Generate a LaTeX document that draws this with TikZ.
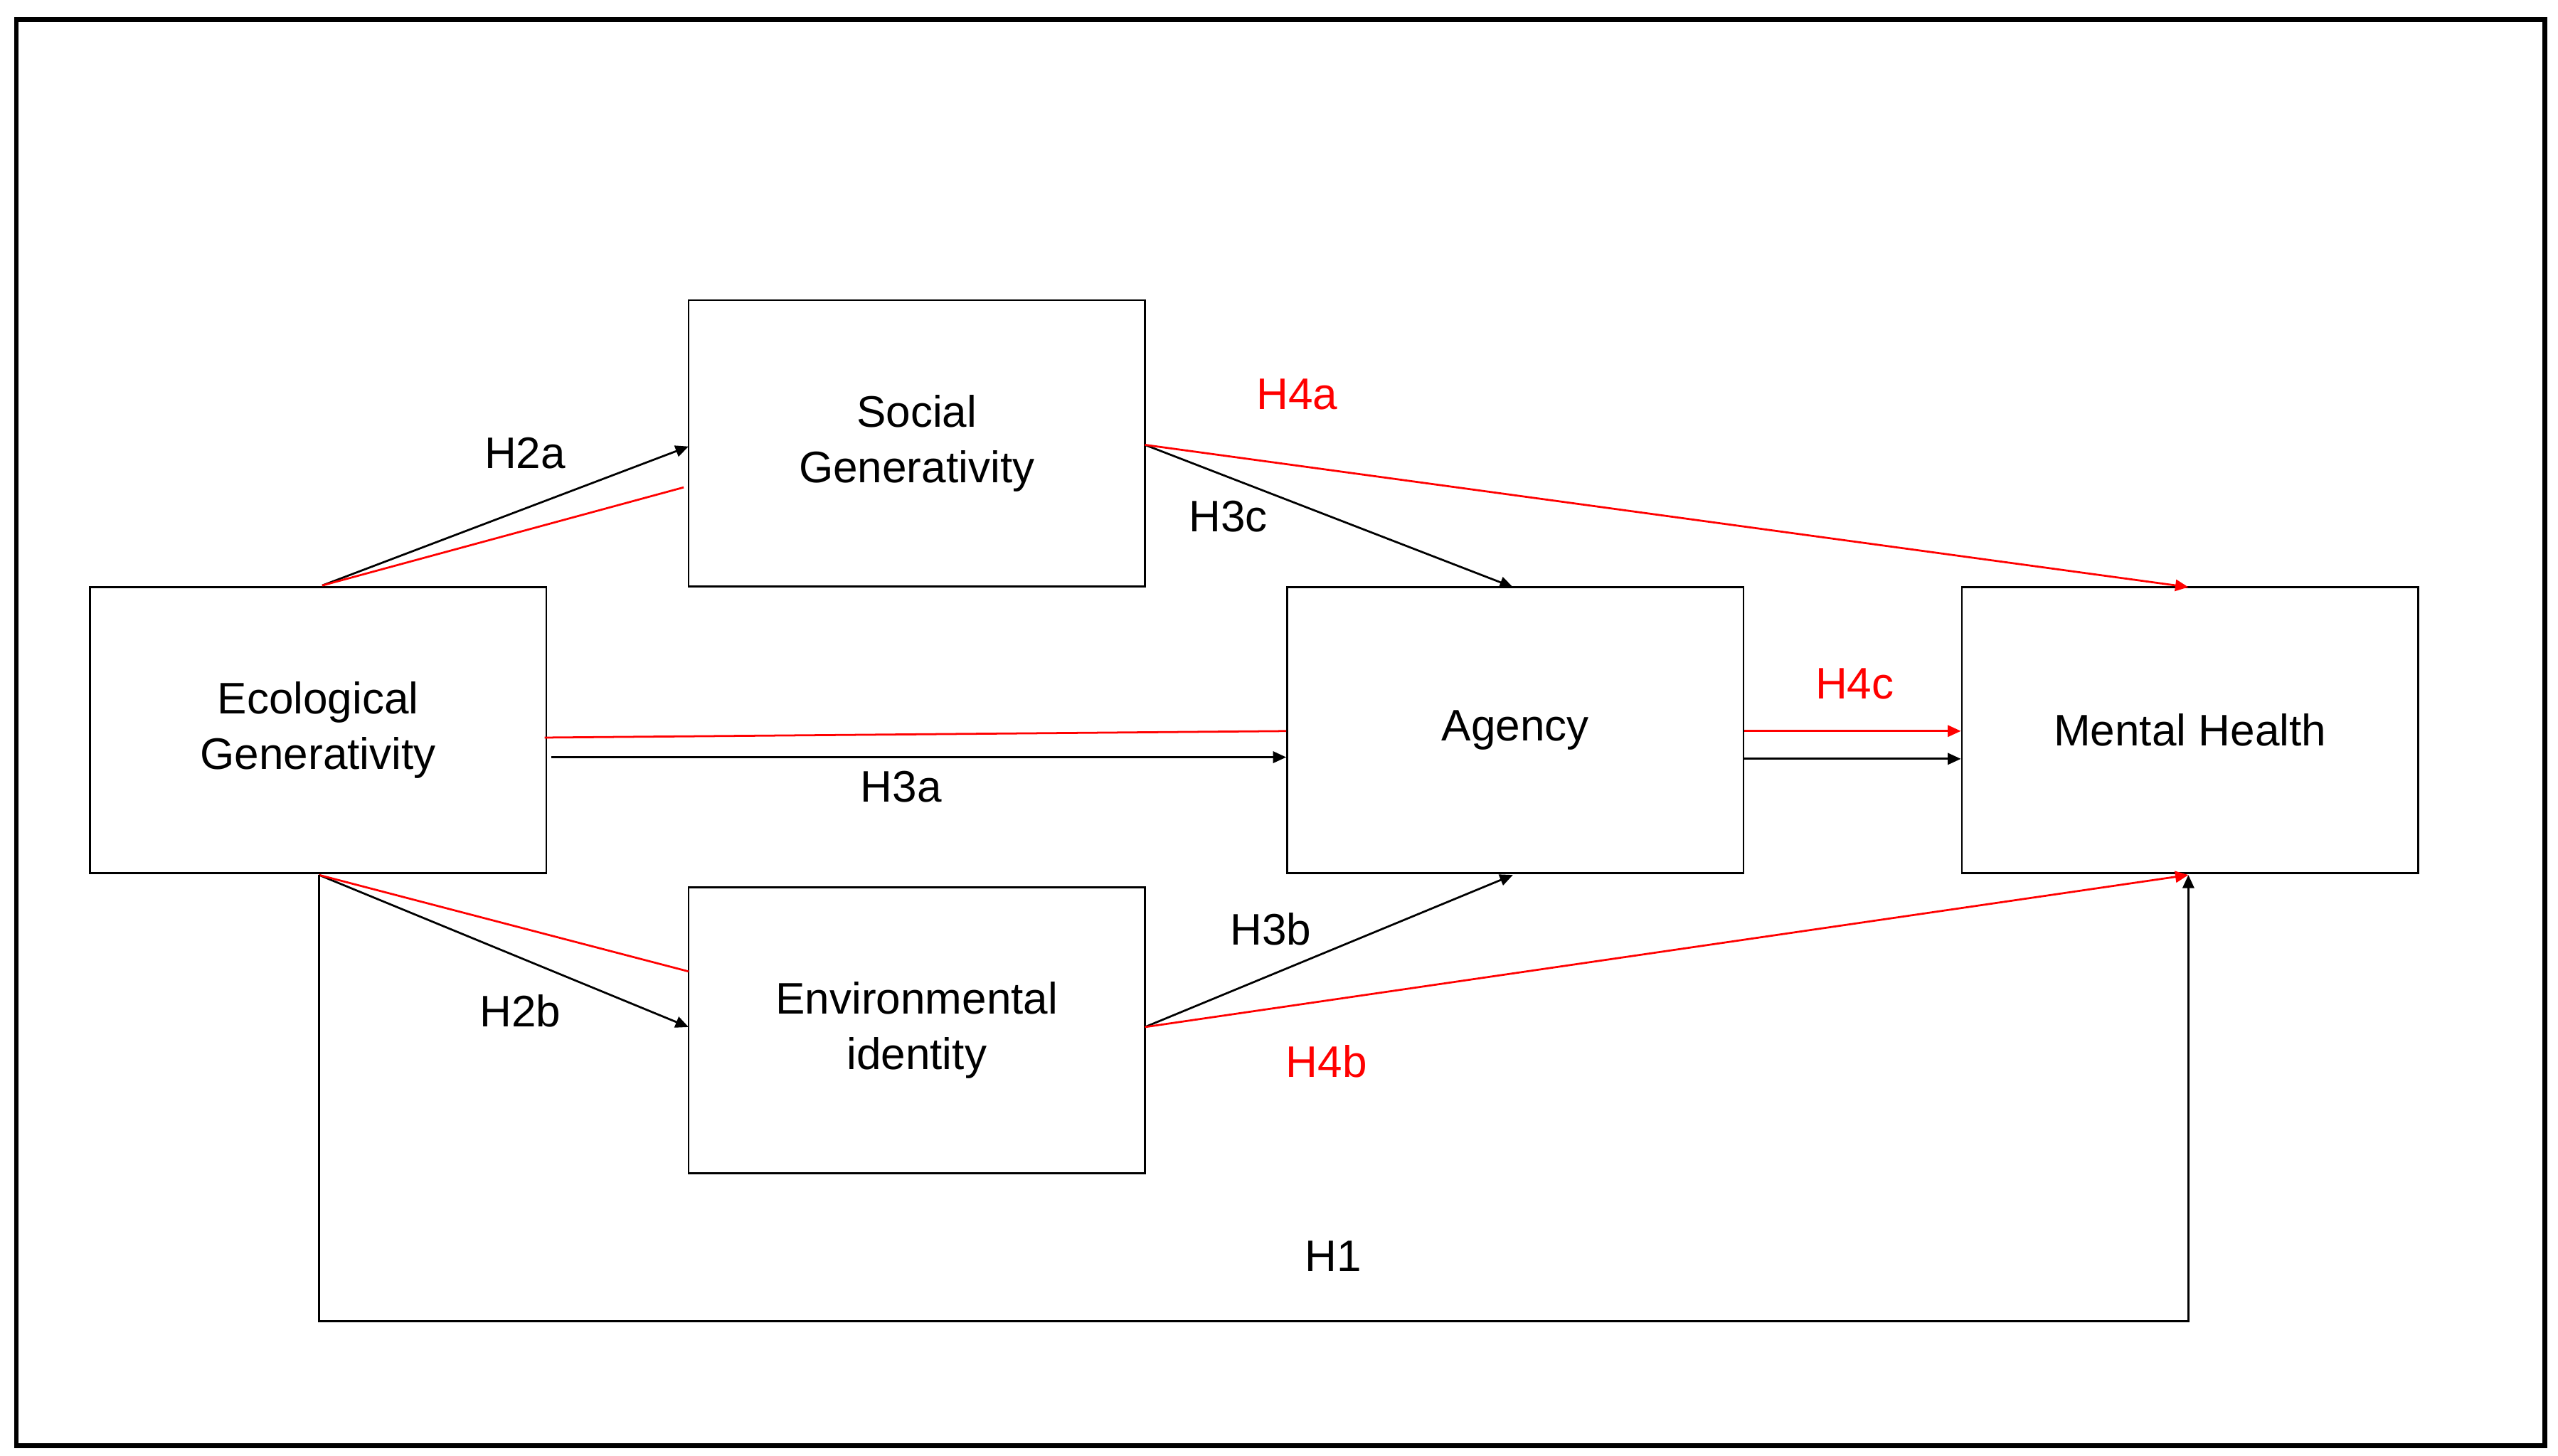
\documentclass[tikz,border=0pt]{standalone}
\usepackage{fontspec}
\setmainfont{Liberation Sans}
\usetikzlibrary{arrows.meta}
\begin{document}
\begin{tikzpicture}[x=0.5pt,y=-0.5pt,
  box/.style={draw,line width=0.6pt,minimum width=139.5pt,minimum height=87.5pt,align=center,font=\fontsize{13.5}{17}\selectfont},
  lab/.style={font=\fontsize{13.5}{16}\selectfont},
  ar/.style={line width=0.6pt,-{Triangle[length=4pt,width=3.5pt]}},
  rl/.style={red,line width=0.6pt},
  rar/.style={red,line width=0.6pt,-{Triangle[length=4pt,width=3.5pt]}}]
\useasboundingbox (0,0) rectangle (1564,890);
\fill[white] (0,0) rectangle (1564,890);
\draw[line width=1.5pt] (10,12) rectangle (1556,884);
\node[box] (soc) at (560.5,271) {Social\\Generativity};
\node[box] (eco) at (194.5,446.5) {Ecological\\Generativity};
\node[box] (ag) at (926.5,446.5) {Agency};
\node[box] (mh) at (1339,446.5) {Mental Health};
\node[box] (env) at (560.5,630) {Environmental\\identity};
\coordinate (ecoT) at (197,358);
\coordinate (ecoB) at (195,535);
\coordinate (socL) at (421,273);
\coordinate (socLr) at (418,298);
\coordinate (envL) at (421,628);
\coordinate (envLr) at (421,594);
\coordinate (socR) at (700,272);
\coordinate (envR) at (700,628);
\coordinate (agT) at (925,359);
\coordinate (agB) at (925,535);
\coordinate (mhT) at (1338,359);
\coordinate (mhB) at (1338,535);
\draw[ar] (ecoT) -- (socL);
\draw[rl] (ecoT) -- (socLr);
\draw[ar] (ecoB) -- (envL);
\draw[rl] (ecoB) -- (envLr);
\draw[ar] (337,463) -- (ag.west |- 0,463);
\draw[rl] (333,451) -- (ag.west |- 0,447);
\draw[ar] (socR) -- (agT);
\draw[rar] (socR) -- (mhT);
\draw[ar] (envR) -- (agB);
\draw[rar] (envR) -- (mhB);
\draw[rar] (ag.east |- 0,447) -- (mh.west |- 0,447);
\draw[ar] (ag.east |- 0,464) -- (mh.west |- 0,464);
\draw[ar] (ecoB) -- (195,808) -- (1338,808) -- (mhB);
\node[lab] at (321,277) {H2a};
\node[lab] at (318,618) {H2b};
\node[lab] at (551,481) {H3a};
\node[lab] at (751,316) {H3c};
\node[lab,red] at (793,241) {H4a};
\node[lab] at (777,568) {H3b};
\node[lab,red] at (811,649) {H4b};
\node[lab,red] at (1134,418) {H4c};
\node[lab] at (815,768) {H1};
\end{tikzpicture}
\end{document}
